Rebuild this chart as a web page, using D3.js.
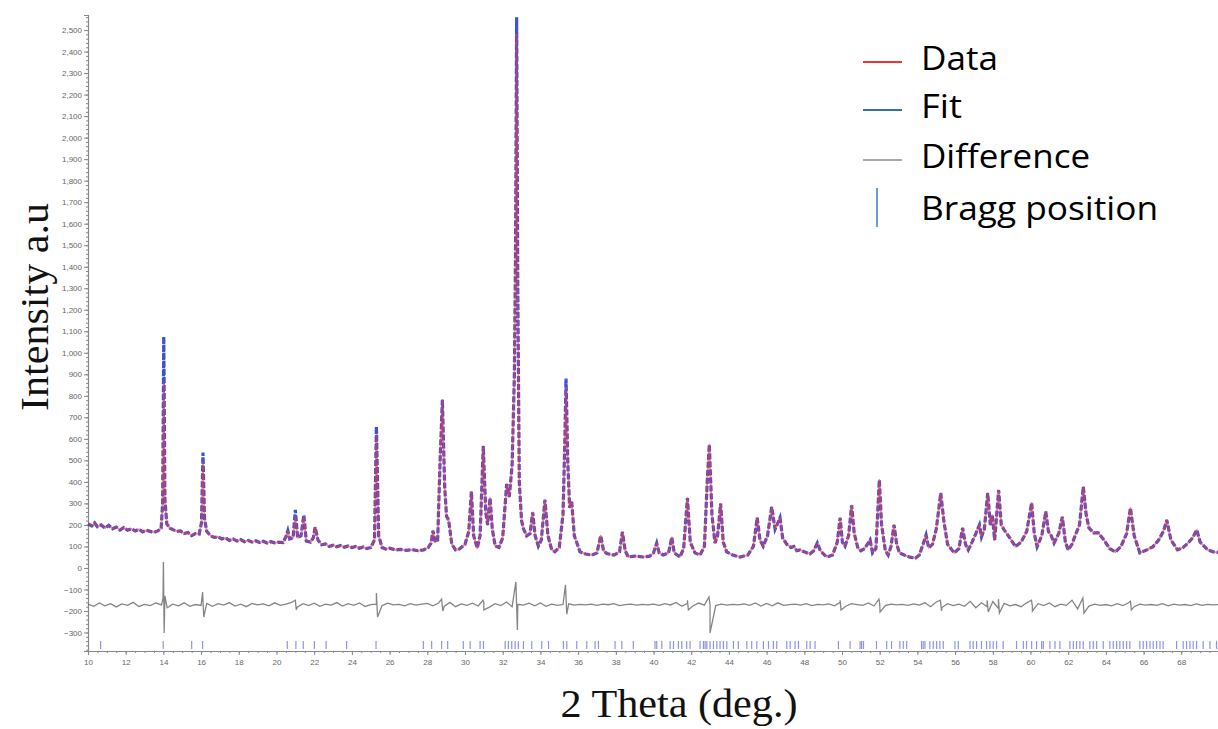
<!DOCTYPE html>
<html>
<head>
<meta charset="utf-8">
<script src="https://cdn.jsdelivr.net/npm/d3@7"></script>
<style>
  body { margin: 0; background: #fff; }
  .tick text { font-family: "Liberation Sans", sans-serif; font-size: 8px; fill: #666; }
  .axis path, .axis line { stroke: #888; }
</style>
</head>
<body>
<script>
// observed profile, [2theta, counts]
const observedPoints = [
  [10.0,205],[10.2,195],[10.35,210],[10.5,192],[10.7,200],[10.9,185],[11.1,198],[11.3,182],[11.5,190],[11.7,176],
  [11.9,188],[12.1,175],[12.3,182],[12.5,172],[12.7,180],[12.9,168],[13.1,176],[13.3,170],[13.5,165],[13.7,172],
  [13.88,185],[13.96,300],[14.02,860],[14.08,320],[14.18,205],[14.35,185],[14.5,178],[14.7,170],[14.9,172],[15.1,160],
  [15.3,165],[15.5,150],[15.7,160],[15.9,158],[16.02,210],[16.1,488],[16.18,230],[16.3,170],[16.5,150],[16.7,142],
  [16.9,145],[17.1,135],[17.3,140],[17.5,128],[17.7,135],[17.9,125],[18.1,132],[18.3,122],[18.5,128],[18.7,120],
  [18.9,126],[19.1,118],[19.3,124],[19.5,116],[19.7,122],[19.9,117],[20.1,120],[20.35,118],[20.5,145],[20.6,173],
  [20.7,135],[20.88,140],[21.0,238],[21.12,140],[21.3,150],[21.45,238],[21.58,125],[21.8,120],[21.95,140],[22.05,189],
  [22.2,130],[22.4,108],[22.6,112],[22.8,100],[23.0,106],[23.2,98],[23.4,104],[23.6,96],[23.8,102],[24.0,95],
  [24.2,100],[24.4,92],[24.6,98],[24.8,90],[25.0,95],[25.2,130],[25.3,618],[25.42,150],[25.6,95],[25.8,88],
  [26.0,92],[26.3,84],[26.6,86],[26.9,82],[27.2,85],[27.5,80],[27.8,84],[28.05,95],[28.2,115],[28.3,173],
  [28.42,120],[28.55,130],[28.68,500],[28.8,781],[28.92,380],[29.02,240],[29.13,223],[29.3,110],[29.5,84],[29.7,88],
  [30.0,110],[30.2,170],[30.34,355],[30.46,150],[30.65,92],[30.8,150],[30.97,566],[31.1,260],[31.2,200],[31.33,325],
  [31.45,180],[31.6,102],[31.8,95],[32.0,140],[32.21,390],[32.35,330],[32.5,480],[32.62,900],[32.68,1450],[32.74,2480],
  [32.8,1300],[32.88,400],[33.0,220],[33.1,183],[33.27,149],[33.45,160],[33.59,258],[33.72,150],[33.89,101],[34.05,130],
  [34.24,316],[34.4,150],[34.6,85],[34.77,75],[35.0,95],[35.2,250],[35.3,600],[35.36,839],[35.45,500],[35.55,280],
  [35.66,307],[35.8,150],[36.1,75],[36.4,65],[36.72,60],[37.0,70],[37.2,150],[37.35,80],[37.52,67],[37.9,60],
  [38.2,75],[38.35,167],[38.5,80],[38.66,51],[39.0,55],[39.46,51],[39.8,55],[40.0,70],[40.17,116],[40.3,70],
  [40.52,60],[40.8,70],[40.97,142],[41.1,70],[41.4,51],[41.6,90],[41.8,325],[41.95,120],[42.2,70],[42.47,60],
  [42.7,100],[42.85,400],[42.96,573],[43.1,250],[43.26,116],[43.4,150],[43.56,299],[43.7,120],[43.88,75],[44.2,60],
  [44.59,51],[45.0,60],[45.3,100],[45.5,233],[45.65,130],[45.82,101],[46.05,150],[46.27,283],[46.45,180],[46.71,233],
  [46.85,140],[47.07,110],[47.3,95],[47.45,100],[47.6,80],[47.77,84],[48.0,75],[48.3,65],[48.5,80],[48.69,116],
  [48.85,80],[49.19,51],[49.5,60],[49.75,120],[49.9,233],[50.02,120],[50.16,101],[50.35,150],[50.51,291],[50.65,160],
  [50.85,90],[51.0,80],[51.2,90],[51.49,130],[51.62,70],[51.8,90],[51.98,409],[52.1,200],[52.3,80],[52.45,60],
  [52.6,100],[52.76,200],[52.9,110],[53.05,70],[53.3,60],[53.6,50],[53.9,46],[54.1,60],[54.3,110],[54.46,153],
  [54.6,93],[54.8,110],[55.0,180],[55.24,348],[55.4,220],[55.6,110],[55.95,70],[56.2,90],[56.4,186],[56.55,110],
  [56.7,84],[56.9,120],[57.1,160],[57.29,200],[57.4,144],[57.55,180],[57.73,348],[57.87,200],[57.97,246],[58.1,130],
  [58.31,362],[58.45,200],[58.6,177],[58.9,140],[59.2,99],[59.5,120],[59.8,170],[60.06,302],[60.2,160],[60.35,99],
  [60.6,150],[60.81,262],[60.95,170],[61.1,150],[61.25,116],[61.5,160],[61.69,237],[61.85,120],[62.0,84],[62.2,110],
  [62.38,153],[62.6,200],[62.8,377],[62.95,250],[63.1,186],[63.35,163],[63.6,163],[63.9,130],[64.2,90],[64.5,74],
  [64.8,100],[65.1,160],[65.3,279],[65.5,150],[65.8,70],[66.2,85],[66.5,99],[66.8,130],[67.05,170],[67.23,223],
  [67.45,130],[67.8,84],[68.1,95],[68.4,120],[68.6,140],[68.82,177],[69.0,120],[69.4,84],[69.7,75],[70.0,72]
];

// calculated profile follows the observed one except at these peak tops
const fitPeakTheta = [14.02, 16.1, 21.0, 21.45, 25.3, 32.74, 35.36];
const fitPeakValue = [1075, 536, 270, 246, 657, 2560, 880];

// difference curve, one value every 0.3 deg from 10 to 70
const diffStep = 0.3;
const diffValues = [
  -168,-178,-163,-176,-166,-181,-167,-174,-160,-179,
  -169,-175,-163,-172,-185,-168,-176,-162,-178,-170,
  -174,-165,-178,-166,-173,-161,-177,-168,-180,-165,
  -172,-167,-176,-162,-174,-168,-160,-182,-166,-175,
  -164,-178,-168,-173,-161,-177,-166,-174,-163,-179,
  -170,-168,-175,-164,-172,-169,-176,-166,-173,-168,
  -165,-176,-163,-178,-160,-180,-167,-174,-164,-177,
  -160,-182,-166,-175,-158,-180,-169,-173,-164,-176,
  -163,-178,-168,-174,-170,-167,-173,-169,-172,-168,
  -174,-168,-171,-166,-175,-170,-168,-173,-169,-172,
  -168,-174,-166,-172,-160,-178,-165,-176,-163,-173,
  -170,-175,-168,-173,-169,-172,-167,-174,-163,-177,
  -165,-176,-162,-174,-170,-168,-173,-166,-175,-169,
  -172,-167,-176,-160,-178,-166,-170,-174,-163,-177,
  -165,-175,-168,-172,-169,-174,-167,-173,-162,-180,
  -158,-184,-166,-175,-168,-178,-155,-185,-162,-180,
  -156,-188,-165,-176,-170,-180,-162,-178,-166,-175,
  -163,-180,-168,-174,-150,-190,-165,-177,-168,-174,
  -170,-176,-166,-175,-162,-180,-168,-173,-170,-174,
  -166,-176,-168,-173,-170,-175,-167,-174,-169,-172,
  -170
];
// spikes in the difference at the strong reflections
const diffSpikes = [
  [13.98,-140],[14.0,28],[14.04,-302],[14.08,-130],
  [16.08,-112],[16.14,-228],[21.0,-150],[21.05,-195],
  [25.3,-116],[25.36,-228],[28.76,-145],[28.82,-200],
  [30.95,-150],[31.0,-195],[32.7,-65],[32.78,-288],
  [35.33,-79],[35.4,-215],[41.8,-150],[41.85,-195],
  [42.94,-135],[43.0,-302],[49.9,-150],[49.95,-195],
  [51.96,-145],[52.02,-205],[55.22,-150],[55.28,-200],
  [57.7,-150],[57.76,-205],[58.3,-145],[58.35,-210],
  [60.05,-150],[60.1,-200],[62.78,-140],[62.84,-210],
  [65.3,-155],[65.35,-195]
];

const braggPositions = [
  10.67,13.99,15.5,16.08,20.57,21.03,21.42,22.01,22.63,23.72,25.28,27.79,28.23,28.76,29.08,29.91,30.27,
  30.8,30.98,32.13,32.3,32.48,32.66,32.83,33.1,33.54,34.07,34.43,35.22,35.4,35.93,36.46,36.9,37.08,
  37.96,38.32,38.93,40.08,40.17,40.44,40.88,41.06,41.32,41.5,41.76,41.94,42.47,42.65,42.74,42.83,
  43.0,43.18,43.36,43.53,43.71,43.89,44.24,44.5,44.95,45.21,45.48,45.83,46.1,46.36,46.54,47.07,
  47.25,47.51,47.69,48.13,48.31,48.57,49.81,50.43,50.96,51.14,51.04,51.83,52.37,52.63,53.07,53.25,
  53.43,54.22,54.31,54.4,54.66,54.84,55.02,55.19,55.37,55.99,56.17,56.79,56.96,57.14,57.4,57.67,
  57.85,58.02,58.2,58.55,59.26,59.62,59.79,60.06,60.32,60.59,60.68,61.03,61.3,61.56,62.09,62.27,
  62.44,62.62,62.8,63.15,63.33,63.51,63.86,64.21,64.39,64.57,64.74,64.92,65.1,65.27,65.8,65.98,
  66.16,66.34,66.51,66.69,66.87,67.04,67.75,68.1,68.28,68.46,68.63,68.81,69.16,69.52,69.87
];

const xTicks = d3.range(10, 69, 2);
const yTicks = d3.range(-300, 2501, 100);

const legendItems = [
  { label: "Data", color: "#f03535", kind: "line", w: 77 },
  { label: "Fit", color: "#3a6ea8", kind: "line", w: 41 },
  { label: "Difference", color: "#a8a8a8", kind: "line", w: 169 },
  { label: "Bragg position", color: "#6f9bd2", kind: "bar", w: 237 }
];

const width = 1218, height = 729;

const svg = d3.select("body").append("svg")
  .attr("width", width)
  .attr("height", height);

// Scales
const xScale = d3.scaleLinear().domain([10, 70]).range([88, 1219]);
const yScale = d3.scaleLinear().domain([-386, 2570]).range([651, 15]);

const calculatedPoints = observedPoints.map(([t, v]) => {
  const k = fitPeakTheta.indexOf(t);
  return [t, k >= 0 ? fitPeakValue[k] : v];
});

const diffPoints = diffValues
  .map((v, i) => [10 + i * diffStep, v])
  .concat(diffSpikes)
  .sort((a, b) => a[0] - b[0]);

const line = d3.line()
  .x(d => xScale(d[0]))
  .y(d => yScale(d[1]));

// Axes
const yMinor = svg.append("g")
  .attr("class", "axis")
  .attr("transform", "translate(88,0)")
  .call(d3.axisLeft(yScale).tickValues(d3.range(-380, 2570, 20)).tickSize(2).tickFormat(""));
yMinor.select(".domain").remove();

svg.append("g")
  .attr("class", "y axis")
  .attr("transform", "translate(88,0)")
  .call(d3.axisLeft(yScale).tickValues(yTicks).tickSize(4).tickPadding(2).tickFormat(d3.format(",")));

const xMinor = svg.append("g")
  .attr("class", "axis")
  .attr("transform", "translate(0,651)")
  .call(d3.axisBottom(xScale).tickValues(d3.range(10, 70, 0.5)).tickSize(2).tickFormat(""));
xMinor.select(".domain").remove();

svg.append("g")
  .attr("class", "x axis")
  .attr("transform", "translate(0,651)")
  .call(d3.axisBottom(xScale).tickValues(xTicks).tickSize(4).tickPadding(4));

svg.selectAll(".axis .domain").attr("stroke", "#777").attr("stroke-width", 1.2);

// Bragg reflection markers
svg.append("g")
  .selectAll("line")
  .data(braggPositions)
  .enter()
  .append("line")
  .attr("x1", d => xScale(d))
  .attr("x2", d => xScale(d))
  .attr("y1", 641)
  .attr("y2", 649)
  .attr("stroke", "#5a68dd")
  .attr("stroke-opacity", 0.7)
  .attr("stroke-width", 1.2);

// Difference
svg.append("path")
  .datum(diffPoints)
  .attr("fill", "none")
  .attr("stroke", "#666")
  .attr("stroke-opacity", 0.8)
  .attr("stroke-width", 1.3)
  .attr("d", line);

// Fit
svg.append("path")
  .datum(calculatedPoints)
  .attr("fill", "none")
  .attr("stroke", "#1a32d4")
  .attr("stroke-width", 3.2)
  .attr("stroke-dasharray", "6,2")
  .attr("stroke-opacity", 0.85)
  .attr("d", line);

// Data
svg.append("path")
  .datum(observedPoints)
  .attr("fill", "none")
  .attr("stroke", "#f03a45")
  .attr("stroke-width", 1.8)
  .attr("stroke-opacity", 0.6)
  .attr("stroke-linejoin", "round")
  .attr("d", line);

// Axis titles
svg.append("text")
  .attr("transform", "translate(48,307) rotate(-90)")
  .attr("text-anchor", "middle")
  .attr("font-family", "Liberation Serif, serif")
  .attr("font-size", "39px")
  .attr("textLength", 208)
  .attr("lengthAdjust", "spacingAndGlyphs")
  .attr("fill", "#111")
  .text("Intensity a.u");

svg.append("text")
  .attr("x", 679)
  .attr("y", 717)
  .attr("text-anchor", "middle")
  .attr("font-family", "Liberation Serif, serif")
  .attr("font-size", "39px")
  .attr("textLength", 237)
  .attr("lengthAdjust", "spacingAndGlyphs")
  .attr("fill", "#111")
  .text("2 Theta (deg.)");

// Legend
const legend = svg.append("g");
const rowY = [70, 118, 168, 220];

legendItems.forEach((d, i) => {
  if (d.kind === "line") {
    legend.append("line")
      .attr("x1", 863).attr("x2", 902)
      .attr("y1", rowY[i] - 8).attr("y2", rowY[i] - 8)
      .attr("stroke", d.color)
      .attr("stroke-width", 2);
  } else {
    legend.append("line")
      .attr("x1", 877).attr("x2", 877)
      .attr("y1", 188).attr("y2", 227)
      .attr("stroke", d.color)
      .attr("stroke-width", 2);
  }
  legend.append("text")
    .attr("x", 921)
    .attr("y", rowY[i])
    .attr("font-family", "Open Sans, sans-serif")
    .attr("font-size", "32px")
    .attr("textLength", d.w)
    .attr("lengthAdjust", "spacingAndGlyphs")
    .attr("fill", "#000")
    .text(d.label);
});
</script>
</body>
</html>
